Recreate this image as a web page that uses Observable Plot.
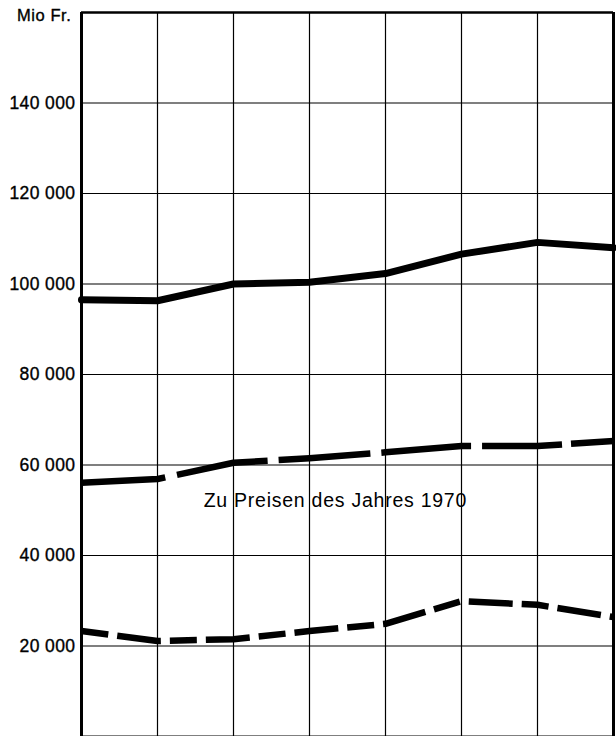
<!DOCTYPE html>
<html>
<head>
<meta charset="utf-8">
<script src="https://cdn.jsdelivr.net/npm/d3@7"></script>
<script src="https://cdn.jsdelivr.net/npm/@observablehq/plot@0.6"></script>
<style>
  html, body { margin: 0; padding: 0; background: #fff; }
  #chart { width: 616px; height: 736px; overflow: hidden; }
  svg { font-family: "Liberation Sans", Arial, Helvetica, sans-serif; }
  .ytick text { font-size: 17.5px; letter-spacing: 0.4px; stroke: black; stroke-width: 0.35px; }
  .unit text { font-size: 16.5px; letter-spacing: 0.6px; stroke: black; stroke-width: 0.35px; }
  .note text { font-size: 19.5px; letter-spacing: 0.75px; }
</style>
</head>
<body>
<div id="chart"></div>
<script>
// Periods (8 equally spaced columns, no labels in the original)
const periods = [0, 1, 2, 3, 4, 5, 6, 7];

// Series values in Mio Fr.
const seriesTop    = [96500, 96300, 100000, 100400, 102300, 106600, 109200, 108000];
const seriesMiddle = [56100, 56900, 60500, 61500, 62800, 64200, 64200, 65300];
const seriesBottom = [23300, 21100, 21500, 23300, 24900, 29900, 29100, 26400];

// Y tick values
const yTicks = [20000, 40000, 60000, 80000, 100000, 120000, 140000];
const yUnit = "Mio Fr.";

// Annotation
const noteText = ["Zu Preisen des Jahres 1970"];
const notePos = [{x: 3.34, y: 52000}];

const mk = (vals) => periods.map((p, i) => ({x: p, y: vals[i]}));
const fmt = (v) => d3.format(",")(v).replace(/,/g, " ");

const chart = Plot.plot({
  width: 616,
  height: 736,
  marginLeft: 81,
  marginRight: 3,
  marginTop: 12,
  marginBottom: 0,
  style: {fontFamily: "'Liberation Sans', Arial, sans-serif", background: "white", overflow: "visible"},
  x: {domain: [0, 7], axis: null},
  y: {domain: [0, 160000], axis: null},
  marks: [
    Plot.gridX(periods, {stroke: "black", strokeOpacity: 1, strokeWidth: 1.2}),
    Plot.gridY(yTicks, {stroke: "black", strokeOpacity: 1, strokeWidth: 1.2}),
    Plot.ruleX([0], {stroke: "black", strokeWidth: 3}),
    Plot.ruleX([7], {stroke: "black", strokeWidth: 3}),
    Plot.ruleY([160000], {stroke: "black", strokeWidth: 2.5}),
    Plot.ruleY([0], {stroke: "black", strokeWidth: 2}),
    Plot.axisY(yTicks, {tickSize: 0, tickPadding: 6, tickFormat: fmt, fill: "black", label: null, className: "ytick"}),
    Plot.text([yUnit], {x: 0, y: 160000, text: d => d, textAnchor: "end", dx: -10, dy: 3, fill: "black", className: "unit"}),
    Plot.line(mk(seriesTop), {x: "x", y: "y", stroke: "black", strokeWidth: 7, strokeLinejoin: "round"}),
    Plot.line(mk(seriesMiddle), {x: "x", y: "y", stroke: "black", strokeWidth: 6.5, strokeDasharray: "84,12,92,11,92,11,90,11,80,9", strokeLinecap: "butt"}),
    Plot.line(mk(seriesBottom), {x: "x", y: "y", stroke: "black", strokeWidth: 6.5, strokeDasharray: "27,9,44,9", strokeLinecap: "butt"}),
    Plot.text(notePos, {x: "x", y: "y", text: (d, i) => noteText[i], fill: "black", textAnchor: "middle", className: "note"})
  ]
});
document.getElementById("chart").appendChild(chart);
</script>
</body>
</html>
